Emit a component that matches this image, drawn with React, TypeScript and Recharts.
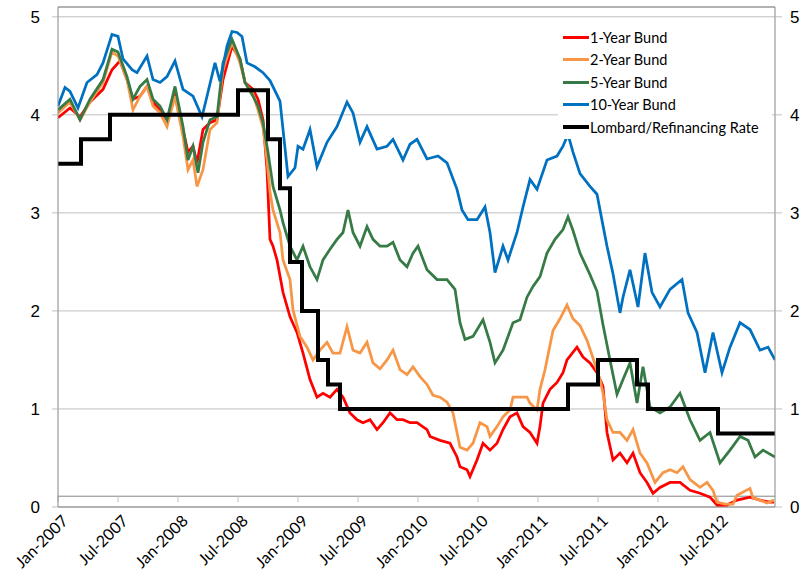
import React from 'react';
import { LineChart, Line, XAxis, YAxis, CartesianGrid, ReferenceLine, Legend } from 'recharts';

// x positions are months since Jan-2007
const tickMonths = [0, 6, 12, 18, 24, 30, 36, 42, 48, 54, 60, 66];
const tickLabels = ['Jan-2007', 'Jul-2007', 'Jan-2008', 'Jul-2008', 'Jan-2009', 'Jul-2009', 'Jan-2010', 'Jul-2010', 'Jan-2011', 'Jul-2011', 'Jan-2012', 'Jul-2012'];
const yTicks = [0, 1, 2, 3, 4, 5];

const bund1Months = [0, 1.2, 2.2, 3.2, 4.5, 5.4, 6.2, 6.9, 7.5, 8.2, 8.9, 9.5, 10.2, 10.9, 11.7, 12.5, 13.0, 13.5, 13.9, 14.5, 15.2, 15.9, 16.5, 17.4, 18.2, 18.7, 19.5, 20.0, 20.5, 20.9, 21.2, 21.5, 21.9, 22.5, 23.2, 23.9, 24.5, 25.2, 25.9, 26.5, 27.2, 27.9, 28.5, 29.2, 29.9, 30.5, 31.2, 31.9, 32.5, 33.2, 33.9, 34.5, 35.2, 35.9, 36.9, 37.2, 38.2, 39.2, 39.9, 40.2, 40.9, 41.2, 41.9, 42.5, 43.2, 43.9, 44.5, 45.2, 45.9, 46.5, 47.2, 47.9, 48.2, 48.5, 49.2, 49.9, 50.5, 50.9, 51.9, 52.5, 53.2, 53.9, 54.5, 54.9, 55.5, 56.2, 56.9, 57.5, 58.2, 58.9, 59.5, 60.2, 61.2, 62.2, 63.2, 64.2, 65.2, 65.9, 66.9, 67.9, 69.2, 70.2, 71.2, 71.6];
const bund1 = [3.97, 4.07, 3.98, 4.13, 4.26, 4.46, 4.55, 4.36, 4.16, 4.19, 4.29, 4.13, 4.05, 3.95, 4.19, 3.85, 3.62, 3.68, 3.51, 3.85, 3.92, 3.95, 4.36, 4.70, 4.57, 4.33, 4.26, 4.16, 3.95, 3.44, 2.73, 2.66, 2.52, 2.19, 1.94, 1.78, 1.57, 1.30, 1.12, 1.16, 1.12, 1.20, 1.12, 0.96, 0.89, 0.86, 0.89, 0.79, 0.86, 0.96, 0.89, 0.89, 0.86, 0.86, 0.79, 0.72, 0.68, 0.65, 0.51, 0.41, 0.38, 0.31, 0.48, 0.65, 0.58, 0.65, 0.79, 0.92, 0.96, 0.82, 0.76, 0.65, 0.82, 1.06, 1.20, 1.27, 1.37, 1.50, 1.63, 1.53, 1.47, 1.37, 1.23, 0.76, 0.48, 0.55, 0.45, 0.55, 0.35, 0.25, 0.14, 0.20, 0.25, 0.25, 0.17, 0.14, 0.10, 0.02, 0.02, 0.07, 0.10, 0.07, 0.05, 0.05];

const bund2Months = [0, 1.2, 2.2, 3.2, 4.5, 5.4, 6.0, 6.9, 7.5, 8.2, 8.9, 9.5, 10.2, 10.9, 11.7, 12.5, 13.0, 13.5, 13.9, 14.5, 15.2, 15.9, 16.5, 17.4, 18.2, 18.7, 19.5, 20.0, 20.5, 20.9, 21.2, 21.5, 22.2, 22.5, 23.2, 23.5, 24.2, 24.9, 25.5, 26.2, 26.9, 27.5, 28.2, 28.9, 29.5, 30.2, 30.9, 31.5, 32.2, 32.9, 33.5, 34.2, 34.9, 35.5, 36.2, 36.9, 37.5, 38.2, 38.9, 39.5, 39.9, 40.2, 40.9, 41.5, 42.2, 42.9, 43.2, 43.9, 44.5, 45.2, 45.5, 46.2, 46.9, 47.2, 47.9, 48.2, 48.7, 49.5, 50.2, 50.9, 51.5, 52.2, 52.9, 53.5, 54.2, 54.5, 54.9, 55.5, 56.2, 56.9, 57.5, 58.2, 58.9, 59.7, 60.5, 61.2, 61.9, 62.5, 63.2, 64.2, 64.9, 65.5, 65.9, 66.7, 67.5, 67.9, 69.2, 69.5, 70.2, 70.9, 71.6];
const bund2 = [4.02, 4.13, 3.95, 4.13, 4.33, 4.64, 4.60, 4.36, 4.05, 4.19, 4.29, 4.09, 4.02, 3.88, 4.19, 3.78, 3.44, 3.54, 3.27, 3.44, 3.85, 3.92, 4.46, 4.74, 4.53, 4.33, 4.21, 4.05, 3.87, 3.54, 3.21, 3.03, 2.80, 2.52, 2.32, 2.01, 1.74, 1.63, 1.50, 1.60, 1.68, 1.57, 1.57, 1.84, 1.60, 1.57, 1.68, 1.47, 1.41, 1.50, 1.60, 1.40, 1.35, 1.43, 1.33, 1.25, 1.14, 1.12, 1.07, 0.96, 0.76, 0.61, 0.58, 0.65, 0.86, 0.82, 0.72, 0.82, 0.92, 0.99, 1.12, 1.12, 1.12, 1.06, 0.99, 1.20, 1.40, 1.80, 1.92, 2.06, 1.92, 1.85, 1.70, 1.52, 1.30, 1.16, 0.89, 0.76, 0.76, 0.68, 0.79, 0.55, 0.45, 0.25, 0.35, 0.38, 0.35, 0.41, 0.28, 0.20, 0.25, 0.17, 0.05, 0.03, 0.03, 0.12, 0.19, 0.09, 0.07, 0.04, 0.07];

const bund5Months = [0, 1.2, 2.2, 3.2, 4.5, 5.4, 6.0, 6.9, 7.5, 8.2, 8.9, 9.5, 10.2, 10.9, 11.7, 12.5, 13.0, 13.5, 14.0, 14.5, 15.2, 15.9, 16.5, 17.4, 18.2, 18.7, 19.5, 20.0, 20.5, 21.0, 21.5, 22.2, 22.5, 23.2, 23.9, 24.5, 25.2, 25.9, 26.5, 27.2, 27.9, 28.5, 29.0, 29.5, 30.2, 30.9, 31.5, 32.2, 32.9, 33.5, 34.2, 34.9, 35.5, 36.0, 36.9, 37.9, 38.9, 39.7, 40.2, 40.7, 41.5, 42.5, 43.2, 43.7, 44.5, 45.5, 46.2, 46.9, 47.5, 48.2, 48.9, 49.7, 50.5, 51.0, 51.5, 52.2, 53.2, 53.9, 54.5, 55.2, 55.9, 56.5, 57.2, 57.9, 58.5, 59.2, 60.2, 61.2, 62.2, 63.2, 64.2, 65.2, 66.2, 67.2, 68.2, 69.0, 69.7, 70.5, 71.7];
const bund5 = [4.05, 4.16, 3.95, 4.16, 4.36, 4.67, 4.64, 4.39, 4.16, 4.29, 4.36, 4.16, 4.09, 3.95, 4.29, 3.88, 3.54, 3.68, 3.41, 3.72, 3.95, 3.98, 4.53, 4.77, 4.57, 4.33, 4.19, 4.09, 3.92, 3.62, 3.27, 3.03, 2.90, 2.66, 2.52, 2.66, 2.45, 2.32, 2.52, 2.63, 2.73, 2.80, 3.03, 2.80, 2.66, 2.86, 2.73, 2.66, 2.66, 2.70, 2.52, 2.45, 2.59, 2.66, 2.42, 2.32, 2.32, 2.22, 1.88, 1.71, 1.74, 1.91, 1.68, 1.47, 1.60, 1.88, 1.91, 2.14, 2.25, 2.35, 2.59, 2.73, 2.83, 2.96, 2.82, 2.59, 2.37, 2.20, 1.86, 1.50, 1.15, 1.30, 1.47, 1.06, 1.43, 1.02, 0.96, 1.02, 1.16, 0.89, 0.68, 0.76, 0.45, 0.58, 0.72, 0.68, 0.51, 0.58, 0.51];

const bund10Months = [0, 0.7, 1.2, 2.0, 2.9, 3.9, 4.5, 5.4, 6.0, 6.5, 7.4, 7.9, 8.9, 9.5, 10.2, 10.9, 11.7, 12.5, 13.5, 14.4, 14.9, 15.7, 16.2, 16.9, 17.4, 17.9, 18.4, 18.9, 19.7, 20.5, 21.2, 22.2, 22.7, 23.0, 23.7, 24.0, 24.5, 25.2, 25.9, 26.9, 27.9, 28.9, 29.5, 30.2, 30.9, 31.9, 32.9, 33.5, 34.5, 35.2, 35.9, 36.9, 38.0, 38.9, 39.9, 40.4, 41.0, 41.9, 42.7, 43.2, 43.7, 44.5, 45.0, 45.9, 46.5, 47.2, 47.9, 48.9, 49.9, 50.5, 51.0, 51.5, 52.2, 53.2, 53.9, 54.5, 54.9, 55.5, 56.2, 56.5, 57.2, 58.0, 58.7, 59.4, 60.2, 61.2, 62.4, 63.0, 63.9, 64.7, 65.5, 66.4, 67.2, 68.2, 69.2, 70.2, 71.0, 71.7];
const bund10 = [4.09, 4.28, 4.24, 4.07, 4.33, 4.41, 4.53, 4.82, 4.80, 4.57, 4.46, 4.43, 4.60, 4.36, 4.33, 4.39, 4.55, 4.26, 4.19, 3.98, 4.19, 4.53, 4.34, 4.70, 4.85, 4.84, 4.80, 4.53, 4.49, 4.43, 4.35, 4.14, 3.66, 3.37, 3.46, 3.68, 3.65, 3.85, 3.47, 3.72, 3.88, 4.13, 4.02, 3.72, 3.88, 3.65, 3.68, 3.75, 3.54, 3.70, 3.75, 3.55, 3.58, 3.51, 3.24, 3.03, 2.93, 2.93, 3.06, 2.80, 2.39, 2.66, 2.52, 2.80, 3.06, 3.34, 3.24, 3.54, 3.58, 3.68, 3.80, 3.62, 3.40, 3.27, 3.19, 2.87, 2.66, 2.38, 1.98, 2.14, 2.42, 2.04, 2.59, 2.19, 2.04, 2.22, 2.32, 1.98, 1.78, 1.37, 1.78, 1.37, 1.63, 1.88, 1.81, 1.60, 1.63, 1.50];

const refiMonths = [0, 2.3, 5.2, 18.0, 21.0, 22.2, 23.2, 24.4, 26.0, 27.0, 28.2, 51.0, 54.0, 57.9, 59.0, 66.0, 71.7];
const refiRate = [3.5, 3.75, 4.0, 4.25, 3.75, 3.25, 2.5, 2.0, 1.5, 1.25, 1.0, 1.25, 1.5, 1.25, 1.0, 0.75, 0.75];

const toData = (ms: number[], vs: number[]) => ms.map((m, i) => ({ m, v: vs[i] }));

const series = [
  { name: '1-Year Bund', color: '#FF0000', data: toData(bund1Months, bund1), width: 2.75, type: 'linear' },
  { name: '2-Year Bund', color: '#F79646', data: toData(bund2Months, bund2), width: 2.75, type: 'linear' },
  { name: '5-Year Bund', color: '#367A45', data: toData(bund5Months, bund5), width: 2.75, type: 'linear' },
  { name: '10-Year Bund', color: '#0070C0', data: toData(bund10Months, bund10), width: 2.75, type: 'linear' },
  { name: 'Lombard/Refinancing Rate', color: '#000000', data: toData(refiMonths, refiRate), width: 4, type: 'stepAfter' },
];

const XTick = (props: any) => {
  const { x, y, payload } = props;
  const idx = tickMonths.indexOf(payload.value);
  const ax = x + 11;
  const ay = y;
  return (
    <text x={ax} y={ay} transform={`rotate(-45 ${ax} ${ay})`} textAnchor="end" fontFamily="Lato" fontSize={16} fill="#000">
      {idx >= 0 ? tickLabels[idx] : ''}
    </text>
  );
};

const LegendContent = () => (
  <div style={{ background: '#fff', paddingLeft: 5, width: 209 }}>
    {series.map((s) => (
      <div key={s.name} style={{ display: 'flex', alignItems: 'center', height: 22.5 }}>
        <div style={{ width: 26, height: s.width, background: s.color, marginRight: 1 }} />
        <span style={{ fontFamily: 'Lato', fontSize: 14.5, color: '#000', whiteSpace: 'nowrap' }}>{s.name}</span>
      </div>
    ))}
  </div>
);

const frame = '#868686';
const grid = '#BFBFBF';

export default function App() {
  return (
    <div style={{ position: 'absolute', left: 0, top: 0, width: 803, height: 572, background: '#fff' }}>
      <LineChart width={803} height={572} margin={{ top: 7, right: 0, bottom: 0, left: 0 }}>
        <CartesianGrid yAxisId="left" vertical={false} stroke={grid} strokeWidth={1} />
        <XAxis
          dataKey="m"
          type="number"
          domain={[0, 71.7]}
          allowDataOverflow
          ticks={tickMonths}
          interval={0}
          height={65}
          axisLine={false}
          tickLine={false}
          tickSize={0}
          tickMargin={15}
          tick={<XTick />}
        />
        <YAxis
          yAxisId="left"
          orientation="left"
          type="number"
          domain={[0, 5.1]}
          allowDataOverflow
          ticks={yTicks}
          width={58}
          axisLine={{ stroke: frame }}
          tickLine={{ stroke: grid }}
          tickSize={6}
          tickMargin={12}
          tick={{ fontFamily: 'Liberation Sans', fontSize: 17, fill: '#000' }}
        />
        <YAxis
          yAxisId="right"
          orientation="right"
          type="number"
          domain={[0, 5.1]}
          allowDataOverflow
          ticks={yTicks}
          width={28}
          axisLine={{ stroke: frame }}
          tickLine={{ stroke: grid }}
          tickSize={7}
          tickMargin={8}
          tick={{ fontFamily: 'Liberation Sans', fontSize: 17, fill: '#000', textAnchor: 'start' }}
        />
        <ReferenceLine yAxisId="left" y={5.1} stroke={frame} strokeWidth={1} />
        <ReferenceLine yAxisId="left" y={0} stroke={frame} strokeWidth={1} />
        <ReferenceLine yAxisId="left" y={0.11} stroke={frame} strokeWidth={1} />
        {tickMonths.map((m) => (
          <ReferenceLine
            key={'t' + m}
            yAxisId="left"
            segment={[{ x: m, y: 0.11 }, { x: m, y: 0.05 }]}
            stroke={grid}
            strokeWidth={1}
          />
        ))}
        {series.map((s) => (
          <Line
            key={s.name}
            yAxisId="left"
            data={s.data}
            dataKey="v"
            name={s.name}
            type={s.type as any}
            stroke={s.color}
            strokeWidth={s.width}
            dot={false}
            activeDot={false}
            isAnimationActive={false}
          />
        ))}
        <Legend
          layout="vertical"
          align="center"
          verticalAlign="middle"
          content={<LegendContent />}
          wrapperStyle={{ left: 558, top: 26, width: 214, right: 'auto', bottom: 'auto' }}
        />
      </LineChart>
    </div>
  );
}
